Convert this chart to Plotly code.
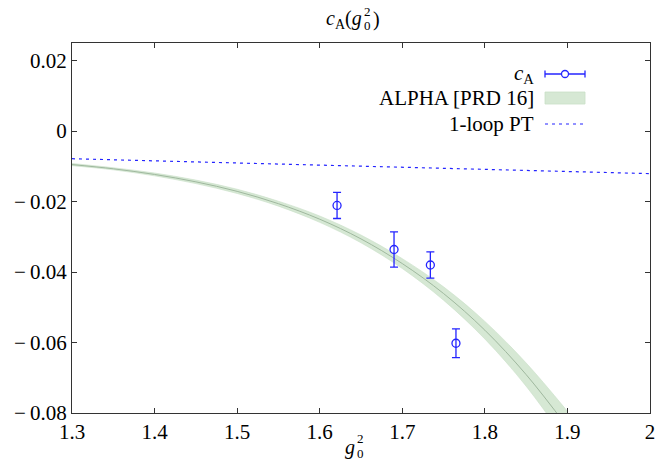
import plotly.graph_objects as go

# Lattice data: c_A at four couplings, with symmetric errors
g2_data = [1.621, 1.690, 1.734, 1.765]
cA_data = [-0.0211, -0.0336, -0.0380, -0.0602]
cA_err = [0.0037, 0.0050, 0.0037, 0.0041]

# ALPHA [PRD 16] interpolation: central values and half-width of the band
g2_band = [1.30, 1.35, 1.40, 1.45, 1.50, 1.55, 1.60, 1.65, 1.70, 1.75, 1.80, 1.85, 1.90]
cA_band = [-0.0095, -0.0107, -0.0123, -0.0144, -0.0171, -0.0206, -0.0250,
           -0.0306, -0.0376, -0.0461, -0.0565, -0.0691, -0.0840]
cA_band_err = [0.0003, 0.0003, 0.0004, 0.0005, 0.0006, 0.0007, 0.0009,
               0.0011, 0.0014, 0.0019, 0.0025, 0.0033, 0.0045]

# One-loop perturbation theory (straight line in g0^2)
g2_pt = [1.3, 2.0]
cA_pt = [-0.00784, -0.01207]

x_ticks = [1.3, 1.4, 1.5, 1.6, 1.7, 1.8, 1.9, 2.0]
x_ticktext = ["1.3", "1.4", "1.5", "1.6", "1.7", "1.8", "1.9", "2"]
y_ticks = [0.02, 0.0, -0.02, -0.04, -0.06, -0.08]
y_ticktext = ["0.02", "0", "\u2212\u20090.02", "\u2212\u20090.04", "\u2212\u20090.06", "\u2212\u20090.08"]

BLUE = "#2424ff"
BAND_FILL = "#d6e8d4"
BAND_EDGE = "#c9dfc7"
BAND_LINE = "#9fb89e"
FONT = "Liberation Serif"
FS = 21

W, H = 669, 466
ML, MR, MT, MB = 72, 19, 43, 53
PW, PH = W - ML - MR, H - MT - MB


def px(x):
    return (x - ML) / PW


def py(y):
    return (H - MB - y) / PH


upper = [c + e for c, e in zip(cA_band, cA_band_err)]
lower = [c - e for c, e in zip(cA_band, cA_band_err)]

fig = go.Figure()

fig.add_trace(go.Scatter(x=g2_band, y=upper, mode="lines",
                         line=dict(width=0.6, color=BAND_EDGE, shape="spline"),
                         hoverinfo="skip", showlegend=False))
fig.add_trace(go.Scatter(x=g2_band, y=lower, mode="lines",
                         line=dict(width=0.6, color=BAND_EDGE, shape="spline"),
                         fill="tonexty", fillcolor=BAND_FILL, hoverinfo="skip", showlegend=False))
fig.add_trace(go.Scatter(x=g2_band, y=cA_band, mode="lines",
                         line=dict(width=1, color=BAND_LINE, shape="spline"), showlegend=False))

fig.add_trace(go.Scatter(x=g2_pt, y=cA_pt, mode="lines",
                         line=dict(color=BLUE, width=1.2, dash="3px,4px"), showlegend=False))

fig.add_trace(go.Scatter(
    x=g2_data, y=cA_data, mode="markers",
    marker=dict(symbol="circle-open", size=8, color=BLUE, line=dict(width=1.3, color=BLUE)),
    error_y=dict(type="data", array=cA_err, visible=True, color=BLUE, thickness=1.3, width=4),
    showlegend=False))

# Hand-drawn legend (text right-aligned, sample to its right)
TEXT_RIGHT = 536
S_X0, S_X1 = 545, 585
S_MID = (S_X0 + S_X1) / 2
rows = [74, 98, 124]
labels = ["<i>c</i><sub>A</sub>", "ALPHA [PRD 16]", "1-loop PT"]


def txt(x, y, text, anchor="center", size=FS, yanchor="middle"):
    return dict(x=px(x), y=py(y), xref="paper", yref="paper", text=text, showarrow=False,
                xanchor=anchor, yanchor=yanchor, font=dict(family=FONT, size=size, color="black"))


annotations = [txt(TEXT_RIGHT, yy, lab, "right", size=21) for yy, lab in zip(rows, labels)]


def pline(x0, y0, x1, y1, **kw):
    return dict(type="line", xref="paper", yref="paper", x0=px(x0), y0=py(y0), x1=px(x1), y1=py(y1),
                line=dict(color=BLUE, width=1.3, **kw))


shapes = [
    pline(S_X0, rows[0], S_X1, rows[0]),
    pline(S_X0, rows[0] - 3.5, S_X0, rows[0] + 3.5),
    pline(S_X1, rows[0] - 3.5, S_X1, rows[0] + 3.5),
    dict(type="circle", xref="paper", yref="paper", x0=px(S_MID - 3.5), x1=px(S_MID + 3.5),
         y0=py(rows[0] + 3.5), y1=py(rows[0] - 3.5), line=dict(color=BLUE, width=1.3), fillcolor="white"),
    dict(type="rect", xref="paper", yref="paper", x0=px(S_X0), x1=px(S_X1),
         y0=py(rows[1] + 6), y1=py(rows[1] - 6), line=dict(color=BAND_EDGE, width=0.8), fillcolor=BAND_FILL),
    dict(type="line", xref="paper", yref="paper", x0=px(S_X0), x1=px(S_X1), y0=py(rows[2]), y1=py(rows[2]),
         line=dict(color=BLUE, width=1.2, dash="3px,4px")),
]

# Title c_A(g_0^2) with stacked sub/superscript
annotations += [
    txt(364, 19, "<i>c</i><sub>A</sub>(<i>g</i>", "right", size=20),
    txt(362, 11, "2", "left", size=13),
    txt(362, 25, "0", "left", size=13),
    txt(371, 19, ")", "left", size=20),
]
# x-axis label g_0^2
annotations += [
    txt(357, 447, "<i>g</i>", "right", size=20),
    txt(355, 438, "2", "left", size=13),
    txt(355, 453, "0", "left", size=13),
]

axis_common = dict(showline=True, linecolor="#333333", linewidth=1, mirror="ticks", ticks="inside",
                   ticklen=5, tickwidth=1, tickcolor="#333333", showgrid=False, zeroline=False,
                   tickfont=dict(family=FONT, size=FS, color="black"))

fig.update_layout(
    width=W, height=H,
    margin=dict(l=ML, r=MR, t=MT, b=MB),
    font=dict(family=FONT, size=FS, color="black"),
    paper_bgcolor="white", plot_bgcolor="white",
    xaxis=dict(range=[1.3, 2.0], tickvals=x_ticks, ticktext=x_ticktext, **axis_common),
    yaxis=dict(range=[-0.08, 0.025], tickvals=y_ticks, ticktext=y_ticktext, **axis_common),
    annotations=annotations, shapes=shapes, showlegend=False,
)

fig.write_html("out.html")
